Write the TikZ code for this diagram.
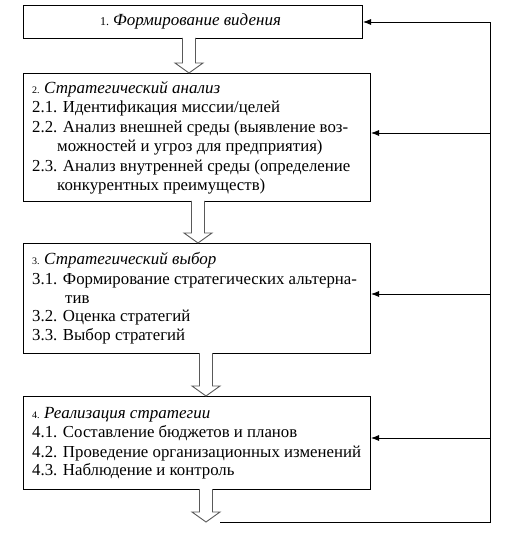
\documentclass[tikz,border=0pt]{standalone}
\usepackage{fontspec}
\setmainfont{Liberation Serif}
\usetikzlibrary{arrows.meta,calc}
\newcommand\hollowdown[3]{%
  \draw[harrow] ({#1-6.5},#2) -- ({#1-6.5},{#3-10}) -- ({#1-14},{#3-10}) -- (#1,#3) -- ({#1+14},{#3-10}) -- ({#1+6.5},{#3-10}) -- ({#1+6.5},#2);}
\tikzset{
  box/.style={draw, line width=1pt, inner sep=0pt, anchor=north west},
  txt/.style={anchor=base west, inner sep=0pt, font=\fontsize{16.8}{19}\selectfont},
  ttl/.style={anchor=base west, inner sep=0pt, font=\fontsize{17}{19}\selectfont\itshape},
  num/.style={anchor=base west, inner sep=0pt, font=\fontsize{10}{12}\selectfont},
  harrow/.style={draw=black!65, line width=0.9pt, fill=white, line join=miter},
  fb/.style={line width=0.8pt},
  fbarrow/.style={line width=0.8pt, -{Latex[length=8pt,width=6pt]}},
}
\begin{document}
\begin{tikzpicture}[x=1pt,y=-1pt]
\useasboundingbox (0,0) rectangle (515,534);
% boxes
\node[box, minimum width=339pt, minimum height=33pt] (b1) at (23,5) {};
\node[box, minimum width=347pt, minimum height=128pt] (b2) at (23,73) {};
\node[box, minimum width=347pt, minimum height=110pt] (b3) at (23,243) {};
\node[box, minimum width=347pt, minimum height=93pt] (b4) at (23,396) {};
% box 1 text
\node[anchor=base west, inner sep=0pt] (n1) at (100,26) {\fontsize{12}{14}\selectfont 1.};
\node[ttl] (t1) at (113,26) {Формирование видения};
% box 2 text
\node[num] (n2) at (32,94) {2.};
\node[ttl] (t2) at (44,94) {Стратегический анализ};
\node[txt] (l21) at (32,113) {2.1. Идентификация миссии/целей};
\node[txt] (l22) at (32,133) {2.2. Анализ внешней среды (выявление воз-};
\node[txt] (l22b) at (57,152) {можностей и угроз для предприятия)};
\node[txt] (l23) at (32,172) {2.3. Анализ внутренней среды (определение};
\node[txt] (l23b) at (57,191) {конкурентных преимуществ)};
% box 3 text
\node[num] (n3) at (32,264) {3.};
\node[ttl] (t3) at (44,264) {Стратегический выбор};
\node[txt] (l31) at (32,284) {3.1. Формирование стратегических альтерна-};
\node[txt] (l31b) at (65,303) {тив};
\node[txt] (l32) at (32,321) {3.2. Оценка стратегий};
\node[txt] (l33) at (32,340) {3.3. Выбор стратегий};
% box 4 text
\node[num] (n4) at (32,418) {4.};
\node[ttl] (t4) at (44,418) {Реализация стратегии};
\node[txt] (l41) at (32,437) {4.1. Составление бюджетов и планов};
\node[txt] (l42) at (32,457) {4.2. Проведение организационных изменений};
\node[txt] (l43) at (32,475) {4.3. Наблюдение и контроль};
% hollow arrows
\hollowdown{189}{38}{73}
\hollowdown{198}{201}{243}
\hollowdown{206}{353}{396}
\hollowdown{206}{489}{522}
% feedback loop
\coordinate (fbstart) at (220,522);
\coordinate (fbcorner) at (490,522);
\coordinate (r1) at (490,22);
\coordinate (r2) at (490,133);
\coordinate (r3) at (490,294);
\coordinate (r4) at (490,438);
\draw[fb] (fbstart) -- (fbcorner) -- (r1);
\draw[fbarrow] (r1) -- (r1 -| b1.east);
\draw[fbarrow] (r2) -- (r2 -| b2.east);
\draw[fbarrow] (r3) -- (r3 -| b3.east);
\draw[fbarrow] (r4) -- (r4 -| b4.east);
\end{tikzpicture}
\end{document}
